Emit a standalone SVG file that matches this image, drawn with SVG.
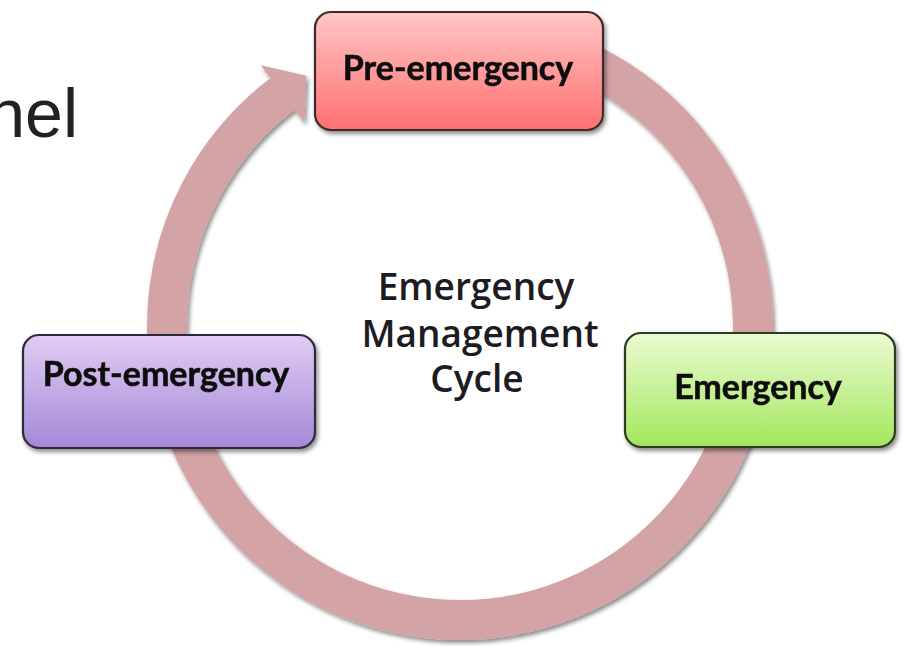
<svg xmlns="http://www.w3.org/2000/svg" width="904" height="646" viewBox="0 0 904 646">
  <defs>
    <linearGradient id="gPre" x1="0" y1="0" x2="0" y2="1">
      <stop offset="0" stop-color="#ffc6c6"/>
      <stop offset="1" stop-color="#ff7070"/>
    </linearGradient>
    <linearGradient id="gPost" x1="0" y1="0" x2="0" y2="1">
      <stop offset="0" stop-color="#e0cdf3"/>
      <stop offset="1" stop-color="#a488d8"/>
    </linearGradient>
    <linearGradient id="gEm" x1="0" y1="0" x2="0" y2="1">
      <stop offset="0" stop-color="#eafbd2"/>
      <stop offset="1" stop-color="#a3e65c"/>
    </linearGradient>
    <filter id="shadow" x="-10%" y="-10%" width="130%" height="130%">
      <feDropShadow dx="2" dy="3" stdDeviation="2" flood-color="#000" flood-opacity="0.45"/>
    </filter>
  </defs>
  <style>
    .ring { fill: none; stroke: #d3a3a5; stroke-width: 40; }
    .head { fill: #d3a3a5; }
    .box { stroke-width: 2.2; }
    .lbl { font-family: Lato, "Open Sans", "Liberation Sans", sans-serif; font-weight: bold; font-size: 34px; fill: #111; text-anchor: middle; stroke: #111; stroke-width: 0.6; }
    .center { font-family: "Open Sans", Lato, "Liberation Sans", sans-serif; font-weight: 600; font-size: 37px; fill: #1c1c22; text-anchor: middle; }
    .title { font-family: "Liberation Sans", Arial, sans-serif; font-size: 68px; fill: #222; text-anchor: end; }
  </style>

  <text class="title" x="78" y="137">nel</text>

  <g id="connectors" filter="url(#shadow)">
    <path class="ring" d="M 460 34 A 293 293 0 1 1 282.5 93.9"/>
    <polygon class="head" points="260.7,65.3 306.4,75.7 304.3,122.5"/>
  </g>

  <g id="pre-emergency" filter="url(#shadow)">
    <rect class="box" x="315" y="12" width="288" height="118" rx="16" fill="url(#gPre)" stroke="#3d2a2a"/>
    <text class="lbl" x="458" y="80">Pre-emergency</text>
  </g>

  <g id="post-emergency" filter="url(#shadow)">
    <rect class="box" x="23" y="335" width="292" height="113" rx="16" fill="url(#gPost)" stroke="#2f2a3d"/>
    <text class="lbl" x="166" y="386">Post-emergency</text>
  </g>

  <g id="emergency" filter="url(#shadow)">
    <rect class="box" x="625" y="333" width="270" height="114" rx="16" fill="url(#gEm)" stroke="#2d3a22"/>
    <text class="lbl" x="758" y="399">Emergency</text>
  </g>

  <g id="cycle-label">
    <text class="center" x="476" y="300">Emergency</text>
    <text class="center" x="480" y="347">Management</text>
    <text class="center" x="477" y="392">Cycle</text>
  </g>
</svg>
